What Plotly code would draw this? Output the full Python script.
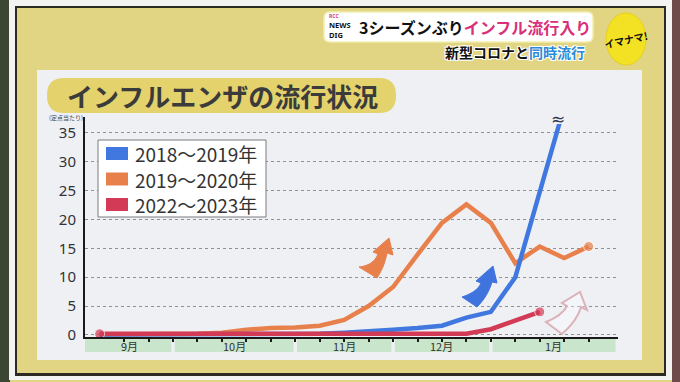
import plotly.graph_objects as go

# ---------------- data ----------------
weeks = list(range(21))                      # weekly points, Sept -> Jan
month_labels = ["9月", "10月", "11月", "12月", "1月"]
month_bounds = [-0.6, 3, 8, 12, 16, 21.1]     # week positions where months change
y_ticks = [0, 5, 10, 15, 20, 25, 30, 35]
series_names = ["2018～2019年", "2019～2020年", "2022～2023年"]

flu_2018_19 = [0.1, 0.1, 0.1, 0.1, 0.1, 0.1, 0.1, 0.1, 0.1, 0.2, 0.4, 0.6, 0.9,
               1.2, 1.6, 3.0, 4.0, 10.0, 25.0, 39.5]
flu_2019_20 = [0.1, 0.1, 0.1, 0.1, 0.2, 0.4, 0.9, 1.2, 1.3, 1.6, 2.6, 5.0, 8.3,
               13.9, 19.4, 22.6, 19.4, 12.4, 15.3, 13.3, 15.3]
flu_2022_23 = [0.2, 0.2, 0.2, 0.2, 0.2, 0.2, 0.2, 0.2, 0.2, 0.2, 0.2, 0.2, 0.2,
               0.2, 0.2, 0.2, 1.0, 2.6, 4.0]

# ---------------- layout geometry ----------------
W, H = 680, 382
L, R, T, B = 85, 62, 124, 45
PW, PH = W - L - R, H - T - B

BLUE, ORANGE, RED = "#4178df", "#e8804c", "#d33a55"
colors = [BLUE, ORANGE, RED]
JP = "Noto Sans CJK JP"


def fx(px):
    return (px - L) / PW


def fy(py):
    return (H - B - py) / PH


def P(px, py):
    return f"{fx(px):.4f},{fy(py):.4f}"


def rect(x0, y0, x1, y1, fill, line=None, lw=0, layer="below"):
    return dict(type="rect", xref="paper", yref="paper",
                x0=fx(x0), x1=fx(x1), y0=fy(y1), y1=fy(y0),
                fillcolor=fill, line=dict(color=line or fill, width=lw), layer=layer)


def pill(x0, y0, x1, y1, r, fill, line=None, lw=0):
    path = (f"M {P(x0 + r, y0)} L {P(x1 - r, y0)} Q {P(x1, y0)} {P(x1, y0 + r)} "
            f"L {P(x1, y1 - r)} Q {P(x1, y1)} {P(x1 - r, y1)} L {P(x0 + r, y1)} "
            f"Q {P(x0, y1)} {P(x0, y1 - r)} L {P(x0, y0 + r)} Q {P(x0, y0)} {P(x0 + r, y0)} Z")
    return dict(type="path", xref="paper", yref="paper", path=path,
                fillcolor=fill, line=dict(color=line or fill, width=lw), layer="below")


def marker_sizes(n, start=False, end=False, size=10):
    s = [0] * n
    if start:
        s[0] = size
    if end:
        s[-1] = size
    return s


fig = go.Figure()

# order: orange (bottom), blue, red (top)
fig.add_trace(go.Scatter(x=weeks[:len(flu_2019_20)], y=flu_2019_20, name=series_names[1],
                         mode="lines+markers", line=dict(color=ORANGE, width=4.5),
                         marker=dict(size=marker_sizes(len(flu_2019_20), end=True), color=ORANGE),
                         cliponaxis=False, showlegend=False))
fig.add_trace(go.Scatter(x=weeks[:len(flu_2018_19)], y=flu_2018_19, name=series_names[0],
                         mode="lines", line=dict(color=BLUE, width=4.5), showlegend=False))
fig.add_trace(go.Scatter(x=weeks[:len(flu_2022_23)], y=flu_2022_23, name=series_names[2],
                         mode="lines+markers", line=dict(color=RED, width=4.5),
                         marker=dict(size=marker_sizes(len(flu_2022_23), start=True, end=True), color=RED),
                         cliponaxis=False, showlegend=False))

shapes = []
# photo / TV frame background
shapes.append(rect(0, 0, 10, 382, "#3b4733"))
shapes.append(rect(672, 0, 680, 382, "#6e4a4a"))
shapes.append(rect(9, 0, 672, 380, "#f3f3f1"))
shapes.append(rect(15, 6, 666, 376, "#2b2b22"))
shapes.append(rect(17, 8, 664, 373, "#e1d584"))
shapes.append(rect(37, 70, 642, 360, "#eef0f4"))
# title pill
shapes.append(pill(47, 78, 396, 113, 17, "#e4d26c"))
# top banner
shapes.append(pill(324, 12, 593, 42, 6, "#ffffff", "#f2eeb0", 1.5))
# yellow logo ellipse
shapes.append(dict(type="circle", xref="paper", yref="paper",
                   x0=fx(606), x1=fx(646), y0=fy(65), y1=fy(13),
                   fillcolor="#f3e224", line=dict(color="#e6cf1a", width=1), layer="below"))
# month bands
gap = 0.07
for i, m in enumerate(month_labels):
    shapes.append(dict(type="rect", xref="x", yref="paper",
                       x0=month_bounds[i] + (gap if i > 0 else 0),
                       x1=month_bounds[i + 1] - (gap if i < len(month_labels) - 1 else 0),
                       y0=fy(352), y1=fy(338), fillcolor="#c9e5cb",
                       line=dict(width=0), layer="below"))
# y axis extension above the plot
shapes.append(dict(type="line", xref="paper", yref="paper", x0=fx(84), x1=fx(84),
                   y0=fy(125), y1=fy(117), line=dict(color="#1a1a1a", width=2)))
# legend box
shapes.append(rect(98, 140, 266, 217, "#ffffff", "#7a7a7a", 1, layer="above"))
row_y = [153.5, 179, 204.5]
for c, yy in zip(colors, row_y):
    shapes.append(rect(106, yy - 6.5, 128, yy + 6.5, c, layer="above"))

# decorative arrows
orange_arrow = (f"M {P(359,267)} C {P(368,266)} {P(375,262)} {P(378,254)} L {P(373,252)} "
                f"L {P(389,238)} L {P(393,255)} L {P(387,253)} C {P(385,264)} {P(381,272)} {P(377,278)} Z")
blue_arrow = (f"M {P(462,297)} C {P(471,294)} {P(478,290)} {P(481,283)} L {P(476,281)} "
              f"L {P(493,266)} L {P(497,283)} L {P(492,282)} C {P(489,292)} {P(484,300)} {P(477,307)} Z")
pink_arrow = (f"M {P(546,322)} C {P(556,318)} {P(563,314)} {P(567,306)} L {P(562,303)} "
              f"L {P(580,292)} L {P(587,310)} L {P(581,307)} C {P(578,318)} {P(570,327)} {P(562,334)} Z")
shapes.append(dict(type="path", xref="paper", yref="paper", path=orange_arrow,
                   fillcolor="#e8804c", line=dict(color="#e8804c", width=1), layer="above"))
shapes.append(dict(type="path", xref="paper", yref="paper", path=blue_arrow,
                   fillcolor="#3f74de", line=dict(color="#3f74de", width=1), layer="above"))
shapes.append(dict(type="path", xref="paper", yref="paper", path=pink_arrow,
                   fillcolor="rgba(255,255,255,0.35)", line=dict(color="#dcb2ba", width=2), layer="above"))

annotations = []


def note(px, py, text, size, color="#333333", xanchor="center", family=JP, angle=0, align="center", **kw):
    annotations.append(dict(x=fx(px), y=fy(py), xref="paper", yref="paper", text=text,
                            showarrow=False, xanchor=xanchor, yanchor="middle", align=align,
                            textangle=angle, borderpad=0,
                            font=dict(family=family, size=size, color=color, **kw)))


# title
note(222, 95, "<b>インフルエンザの流行状況</b>", 26, "#3b3b3b")
# y-axis unit
note(66, 117.8, "(定点当たり)", 6, "#444444")
# legend texts
for name, yy in zip(series_names, row_y):
    note(134, yy, name, 19, "#333333", xanchor="left")
# month labels
for i, m in enumerate(month_labels):
    annotations.append(dict(x=(month_bounds[i] + month_bounds[i + 1]) / 2, y=fy(345.5),
                            xref="x", yref="paper", text=m, showarrow=False,
                            xanchor="center", yanchor="middle",
                            font=dict(family=JP, size=11, color="#333333")))
# break mark on the off-scale line
note(558, 119, "≈", 17, "#2a3550", family="DejaVu Sans")
# banner
note(328, 26, "<span style='font-size:5px;color:#d23c7c'><b>RCC</b></span><br><b>NEWS</b><br><b>DIG</b>",
     7.5, "#111111", xanchor="left", family="Noto Sans", align="left")
note(358, 27, "<b>3シーズンぶり<span style='color:#d8307a'>インフル流行入り</span></b>",
     16, "#111111", xanchor="left")
shadow = "1px 1px 0 #fff, -1px -1px 0 #fff, 1px -1px 0 #fff, -1px 1px 0 #fff"
note(444, 52, "<b>新型コロナと<span style='color:#2c8ad8'>同時流行</span></b>", 14,
     "#111111", xanchor="left", shadow=shadow)
note(626, 39, "<b>イマナマ!</b>", 10, "#111111", angle=-12)

fig.update_layout(
    width=W, height=H, margin=dict(l=L, r=R, t=T, b=B),
    paper_bgcolor="#e1d584", plot_bgcolor="rgba(0,0,0,0)",
    shapes=shapes, annotations=annotations, showlegend=False,
    xaxis=dict(range=[-0.6, 21.2], showgrid=False, zeroline=False,
               showline=True, linecolor="#1a1a1a", linewidth=2,
               tickmode="array", tickvals=weeks[1:], ticks="outside", ticklen=3,
               tickwidth=1.5, tickcolor="#1a1a1a", showticklabels=False, fixedrange=True),
    yaxis=dict(range=[-0.35, 36.5], tickmode="array", tickvals=y_ticks,
               showgrid=True, gridcolor="#8f9096", gridwidth=1.4, griddash="dot",
               zeroline=False, showline=True, linecolor="#1a1a1a", linewidth=2,
               ticks="", ticklabelstandoff=4,
               tickfont=dict(family="Noto Sans", size=15, color="#333333"), fixedrange=True),
)

fig.write_html("out.html", config={"displayModeBar": False},
               post_script="document.body.style.margin='0';document.body.style.overflow='hidden';")
